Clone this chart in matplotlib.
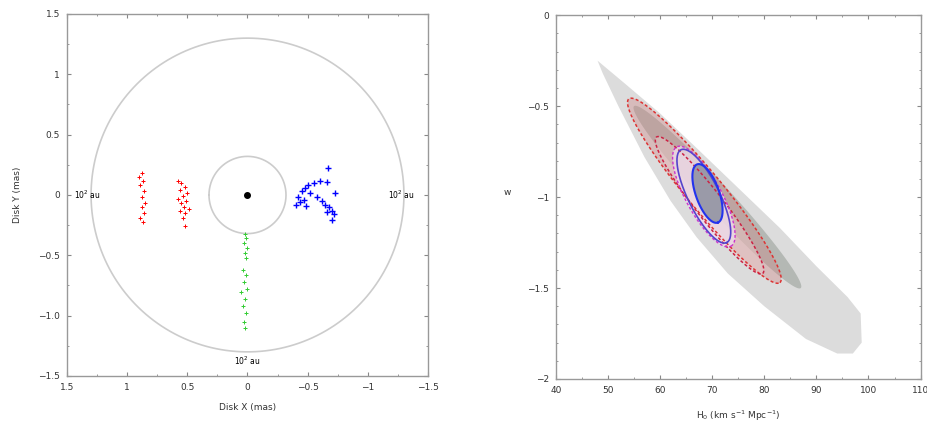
import numpy as np
import matplotlib
matplotlib.use("Agg")
import matplotlib.pyplot as plt
from matplotlib.ticker import MultipleLocator

# ---- left panel data (disk plane, mas) ----
outer_r = 1.3
inner_r = 0.32
red1_x = [0.90, 0.87, 0.89, 0.86, 0.88, 0.85, 0.88, 0.86, 0.89, 0.87, 0.88]
red1_y = [0.15, 0.12, 0.08, 0.03, -0.02, -0.07, -0.10, -0.15, -0.19, -0.22, 0.18]
red2_x = [0.58, 0.55, 0.52, 0.56, 0.50, 0.54, 0.58, 0.51, 0.55, 0.53, 0.49, 0.56, 0.52, 0.54, 0.52]
red2_y = [0.12, 0.10, 0.07, 0.04, 0.02, -0.01, -0.03, -0.05, -0.07, -0.10, -0.12, -0.13, -0.15, -0.19, -0.26]
blue_x = [-0.42, -0.45, -0.48, -0.50, -0.44, -0.47, -0.52, -0.40, -0.49, -0.55, -0.60,
          -0.66, -0.67, -0.62, -0.64, -0.68, -0.70, -0.66, -0.72, -0.70, -0.58, -0.73]
blue_y = [-0.02, 0.03, 0.06, 0.08, -0.06, -0.04, 0.02, -0.08, -0.09, 0.10, 0.12,
          0.11, 0.22, -0.05, -0.08, -0.10, -0.13, -0.14, -0.16, -0.21, -0.02, 0.02]
green_x = [0.02, 0.01, 0.03, 0.00, 0.02, 0.01, 0.04, 0.01, 0.03, 0.00, 0.05, 0.02, 0.04, 0.01, 0.03, 0.02]
green_y = [-0.32, -0.36, -0.40, -0.44, -0.48, -0.52, -0.62, -0.66, -0.72, -0.78, -0.80, -0.86, -0.92, -0.98, -1.05, -1.10]
scale_labels = ["10$^2$ au", "10$^2$ au", "10$^2$ au"]
scale_x = [1.33, -1.28, 0.0]
scale_y = [0.0, 0.0, -1.37]

# ---- right panel data (H0, w) ----
band_h0 = [48, 53, 60, 67, 75, 83, 90, 96, 98.5, 98.7, 97, 94, 88, 80, 73, 67, 62, 57, 52, 49]
band_w = [-0.25, -0.37, -0.54, -0.73, -0.95, -1.17, -1.38, -1.55, -1.64, -1.80, -1.86, -1.86,
          -1.78, -1.60, -1.42, -1.22, -1.02, -0.78, -0.50, -0.32]
# each contour: centre, end of major axis, end of minor axis
mid_gray = [(71.0, -1.0), (87.0, -1.50), (72.85, -0.952)]
red_outer = [(68.5, -0.965), (83.0, -1.47), (71.2, -0.902)]
red_inner = [(69.5, -1.045), (79.7, -1.42), (71.6, -0.998)]
magenta = [(68.4, -0.997), (73.6, -1.27), (71.4, -0.950)]
blue_outer = [(68.4, -0.995), (72.8, -1.25), (71.1, -0.956)]
blue_inner = [(69.1, -0.98), (71.1, -1.14), (71.2, -0.957)]


def ellipse(spec, n=200):
    c, a, b = (np.array(p) for p in spec)
    t = np.linspace(0, 2 * np.pi, n)
    pts = c + np.outer(np.cos(t), a - c) + np.outer(np.sin(t), b - c)
    return pts[:, 0], pts[:, 1]


def style(ax):
    for s in ax.spines.values():
        s.set_color("#999999")
        s.set_linewidth(1.0)
    ax.tick_params(which="both", direction="in", top=True, right=True,
                   color="#888888", labelsize=6.5, labelcolor="#333333", pad=5)
    ax.tick_params(which="major", length=3)
    ax.tick_params(which="minor", length=1.5)


fig = plt.figure(figsize=(9.28, 4.28), dpi=100)

# left panel
ax1 = fig.add_axes([0.0722, 0.1215, 0.389, 0.8458])
t = np.linspace(0, 2 * np.pi, 400)
ax1.plot(outer_r * np.cos(t), outer_r * np.sin(t), color="#cccccc", lw=1.2)
ax1.plot(inner_r * np.cos(t), inner_r * np.sin(t), color="#cccccc", lw=1.2)
ax1.plot(0, 0, "o", color="black", ms=4)
ax1.plot(red1_x, red1_y, "+", color="red", ms=3, mew=0.7)
ax1.plot(red2_x, red2_y, "+", color="red", ms=3, mew=0.7)
ax1.plot(blue_x, blue_y, "+", color="blue", ms=4, mew=1.0)
ax1.plot(green_x, green_y, "+", color="#33cc33", ms=3, mew=0.7)
for lab, x, y in zip(scale_labels, scale_x, scale_y):
    ax1.text(x, y, lab, fontsize=5.5, ha="center", va="center")
ax1.set_xlim(1.5, -1.5)
ax1.set_ylim(-1.5, 1.5)
ax1.set_xticks([1.5, 1, 0.5, 0, -0.5, -1, -1.5])
ax1.set_xticklabels(["1.5", "1", "0.5", "0", "\u22120.5", "\u22121", "\u22121.5"])
ax1.set_yticks([-1.5, -1, -0.5, 0, 0.5, 1, 1.5])
ax1.set_yticklabels(["\u22121.5", "\u22121.0", "\u22120.5", "0", "0.5", "1", "1.5"])
ax1.xaxis.set_minor_locator(MultipleLocator(0.25))
ax1.yaxis.set_minor_locator(MultipleLocator(0.25))
ax1.set_xlabel("Disk X (mas)", fontsize=6.5, color="#333333", labelpad=8)
ax1.set_ylabel("Disk Y (mas)", fontsize=6.5, color="#333333", labelpad=12)
style(ax1)

# right panel
ax2 = fig.add_axes([0.599, 0.1145, 0.393, 0.850])
ax2.fill(band_h0, band_w, color="#dcdcdc", lw=0)
x, y = ellipse(mid_gray)
ax2.fill(x, y, color="#b4b8b4", lw=0)
x, y = ellipse(red_outer)
ax2.fill(x, y, color="#d08080", alpha=0.35, lw=0)
ax2.plot(x, y, color="#dd3333", lw=1.1, ls=(0, (2, 1.5)))
x, y = ellipse(red_inner)
ax2.fill(x, y, color="#e8c8c8", alpha=0.5, lw=0)
ax2.plot(x, y, color="#cc2244", lw=1.1, ls=(0, (2, 1.5)))
x, y = ellipse(magenta)
ax2.fill(x, y, color="#f0e0f0", alpha=0.7, lw=0)
ax2.plot(x, y, color="#cc33cc", lw=1.0, ls=(0, (2, 1.5)))
x, y = ellipse(blue_outer)
ax2.plot(x, y, color="#5544cc", lw=1.2)
x, y = ellipse(blue_inner)
ax2.fill(x, y, color="#9a9aa8", lw=0)
ax2.plot(x, y, color="#2233ee", lw=1.5)
ax2.set_xlim(40, 110)
ax2.set_ylim(-2, 0)
ax2.set_xticks([40, 50, 60, 70, 80, 90, 100, 110])
ax2.set_yticks([0, -0.5, -1, -1.5, -2])
ax2.set_yticklabels(["0", "\u22120.5", "\u22121", "\u22121.5", "\u22122"])
ax2.xaxis.set_minor_locator(MultipleLocator(5))
ax2.yaxis.set_minor_locator(MultipleLocator(0.1))
ax2.set_xlabel("H$_0$ (km s$^{-1}$ Mpc$^{-1}$)", fontsize=6.5, color="#333333", labelpad=10)
ax2.set_ylabel("w", fontsize=6.5, color="#333333", rotation=0, labelpad=14)
style(ax2)

fig.savefig("out.png", dpi=100)
